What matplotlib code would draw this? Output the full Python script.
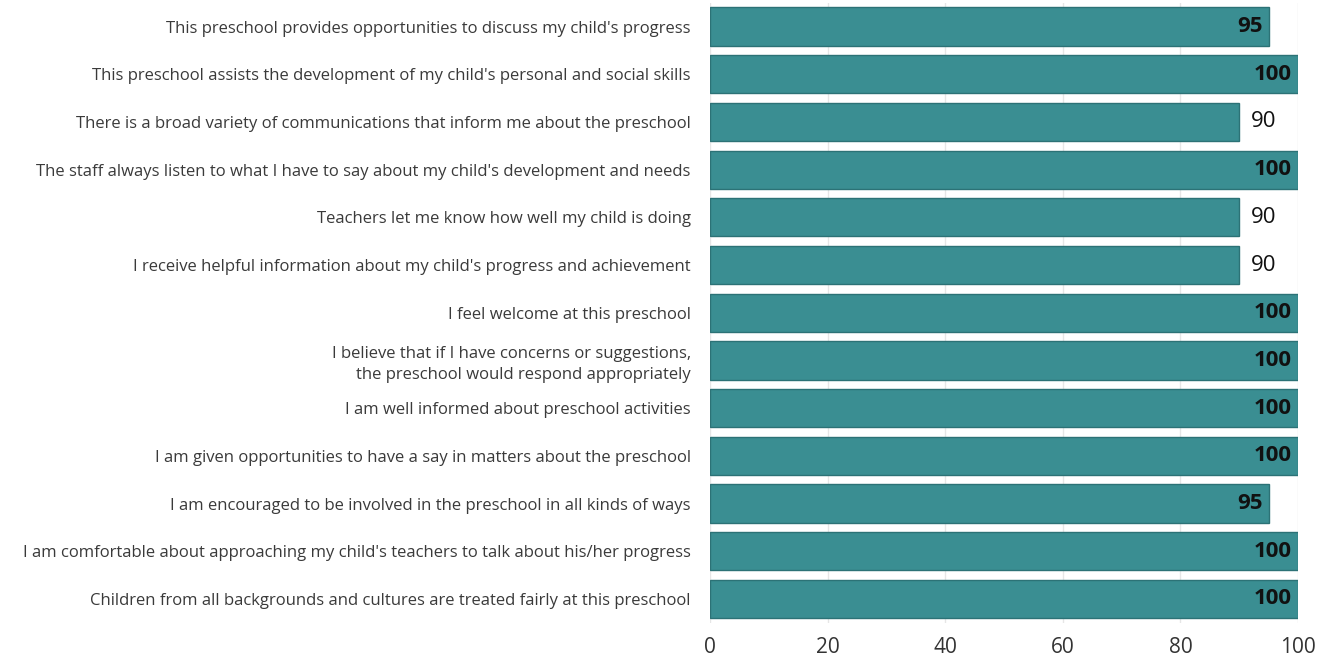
import numpy as np
import matplotlib.pyplot as plt

# -------------------------------
# Data
# -------------------------------

statements = [
    "This preschool provides opportunities to discuss my child's progress",
    "This preschool assists the development of my child's personal and social skills",
    "There is a broad variety of communications that inform me about the preschool",
    "The staff always listen to what I have to say about my child's development and needs",
    "Teachers let me know how well my child is doing",
    "I receive helpful information about my child's progress and achievement",
    "I feel welcome at this preschool",
    "I believe that if I have concerns or suggestions,\nthe preschool would respond appropriately",
    "I am well informed about preschool activities",
    "I am given opportunities to have a say in matters about the preschool",
    "I am encouraged to be involved in the preschool in all kinds of ways",
    "I am comfortable about approaching my child's teachers to talk about his/her progress",
    "Children from all backgrounds and cultures are treated fairly at this preschool",
]
scores = [95, 100, 90, 100, 90, 90, 100, 100, 100, 100, 95, 100, 100]
x_ticks = [0, 20, 40, 60, 80, 100]

# -------------------------------
# Plot
# -------------------------------

plt.rcParams['font.family'] = ['Open Sans', 'DejaVu Sans']

fig = plt.figure(figsize=(13.4, 6.64), dpi=100)
ax = fig.add_axes([0.53, 0.062, 0.4387, 0.934])

y = np.arange(len(statements))
ax.barh(y, scores, height=0.8, color='#3a8e92', edgecolor='#2c7276', linewidth=1, zorder=2)

for yi, v in zip(y, scores):
    if v >= 95:
        ax.text(v - 1, yi, str(v), ha='right', va='center', fontsize=16,
                fontweight='bold', color='#111111', zorder=3)
    else:
        ax.text(v + 2, yi, str(v), ha='left', va='center', fontsize=16,
                color='#111111', zorder=3)

ax.set_yticks(y)
ax.set_yticklabels(statements, fontsize=12, color='#3a3a3a', linespacing=1.35)
ax.set_ylim(len(statements) - 0.5, -0.5)
ax.set_xlim(0, 100)
ax.set_xticks(x_ticks)
ax.tick_params(axis='x', labelsize=15, colors='#333333', length=0, pad=10)
ax.tick_params(axis='y', length=0, pad=14)

ax.xaxis.grid(True, color='#e6e6e6', linewidth=1, zorder=0)
for s in ax.spines.values():
    s.set_visible(False)

fig.savefig('out.png', dpi=100)
